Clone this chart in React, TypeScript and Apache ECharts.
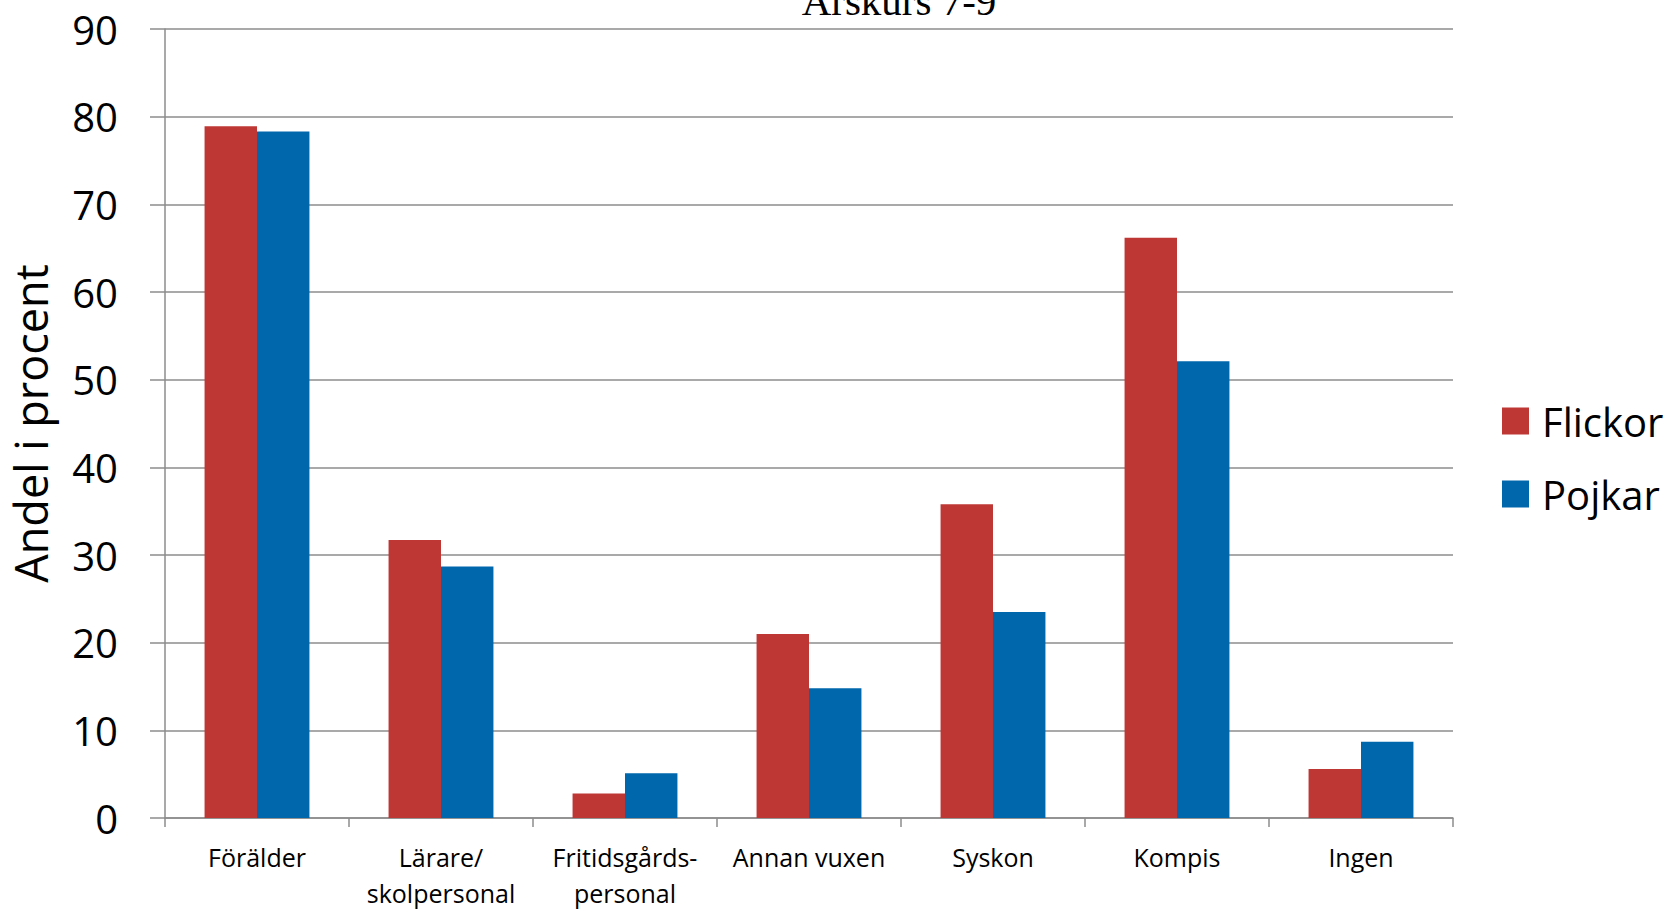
import React, { useEffect, useRef } from "react";
import * as echarts from "echarts";

const categories = ["Förälder", "Lärare/\nskolpersonal", "Fritidsgårds-\npersonal", "Annan vuxen", "Syskon", "Kompis", "Ingen"];
const flickor = [78.9, 31.7, 2.8, 21.0, 35.8, 66.2, 5.6];
const pojkar = [78.3, 28.7, 5.1, 14.8, 23.5, 52.1, 8.7];
const seriesNames = ["Flickor", "Pojkar"];
const titleText = "Årskurs 7-9";
const yAxisName = "Andel i procent";

export default function App() {
  const ref = useRef<HTMLDivElement>(null);
  useEffect(() => {
    if (!ref.current) return;
    const chart = echarts.init(ref.current, null, { renderer: "svg" });
    const sans = "'Open Sans', sans-serif";
    const gray = "#8c8c8c";
    chart.setOption({
      animation: false,
      backgroundColor: "#ffffff",
      graphic: [
        {
          type: "text",
          x: 899,
          y: 1,
          style: {
            text: titleText,
            fontFamily: "'Liberation Serif', serif",
            fontSize: 41,
            fill: "#000",
            textAlign: "center",
            textVerticalAlign: "middle",
          },
        },
      ],
      legend: {
        orient: "vertical",
        left: 1497,
        top: 396,
        itemWidth: 27,
        itemHeight: 27,
        itemGap: 33,
        icon: "rect",
        textStyle: {
          fontFamily: sans,
          fontSize: 40,
          color: "#000",
          lineHeight: 40,
          padding: [0, 0, 0, 8],
        },
        data: seriesNames,
      },
      grid: { left: 165, right: 218, top: 29, bottom: 89, containLabel: false },
      xAxis: {
        type: "category",
        data: categories,
        axisLine: { lineStyle: { color: gray, width: 1.5 } },
        axisTick: { show: true, length: 9, lineStyle: { color: gray, width: 1.5 }, alignWithLabel: false },
        axisLabel: {
          fontFamily: sans,
          fontSize: 25,
          color: "#000",
          lineHeight: 36,
          margin: 21,
          interval: 0,
        },
      },
      yAxis: {
        type: "value",
        min: 0,
        max: 90,
        interval: 10,
        name: yAxisName,
        nameLocation: "middle",
        nameGap: 112,
        nameTextStyle: { fontFamily: sans, fontSize: 45, color: "#000" },
        axisLine: { show: true, lineStyle: { color: gray, width: 1.5 } },
        axisTick: { show: true, length: 15, lineStyle: { color: gray, width: 1.5 } },
        axisLabel: { fontFamily: sans, fontSize: 40, color: "#000", margin: 47 },
        splitLine: { show: true, lineStyle: { color: gray, width: 1.5 } },
      },
      series: [
        {
          name: seriesNames[0],
          type: "bar",
          data: flickor,
          itemStyle: { color: "#BE3734" },
          barGap: "0%",
          barCategoryGap: "43%",
        },
        {
          name: seriesNames[1],
          type: "bar",
          data: pojkar,
          itemStyle: { color: "#0067AD" },
          barGap: "0%",
          barCategoryGap: "43%",
        },
      ],
    });
    return () => chart.dispose();
  }, []);
  return (
    <div
      ref={ref}
      style={{ position: "fixed", left: 0, top: 0, width: 1671, height: 911 }}
    />
  );
}
